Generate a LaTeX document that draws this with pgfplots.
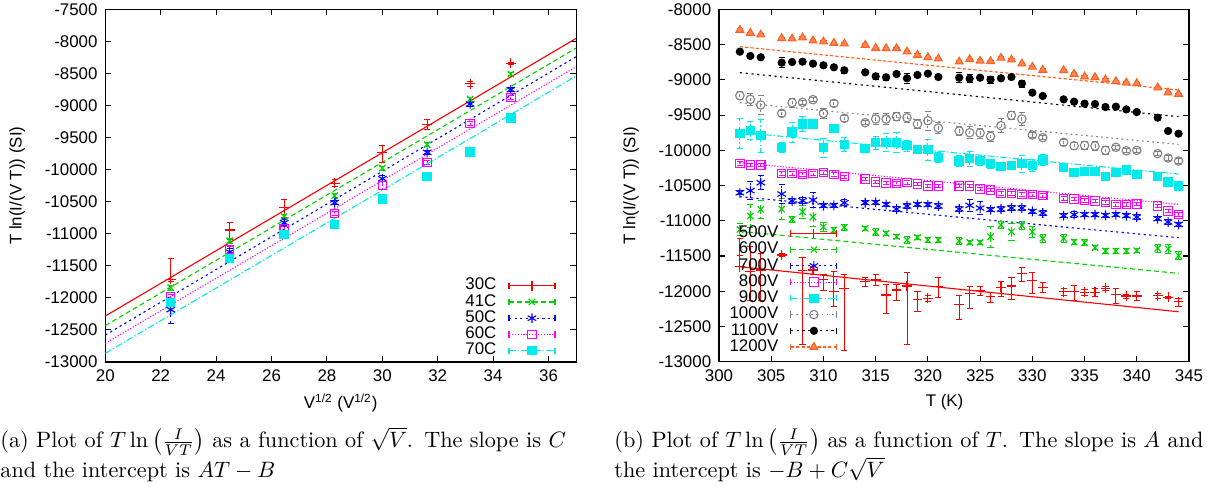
\documentclass[border=0pt]{standalone}
\usepackage{fontspec}
\newfontfamily\plotfont{Liberation Sans}
\usepackage{pgfplots}
\pgfplotsset{compat=1.18}

\definecolor{gpred}{RGB}{255,0,0}
\definecolor{gpgreen}{RGB}{0,210,0}
\definecolor{gpblue}{RGB}{0,0,255}
\definecolor{gpmag}{RGB}{255,0,255}
\definecolor{gpcyan}{RGB}{0,235,235}
\definecolor{gpgray}{RGB}{130,130,130}
\definecolor{gporange}{RGB}{255,96,32}

\newcommand\pf{\plotfont\fontsize{7.6}{8.4}\selectfont}

\pgfplotsset{
  gpaxis/.style={
    scale only axis, anchor=south west,
    axis line style={line width=0.6pt},
    tick align=inside, tick pos=both, major tick length=2.7pt,
    tick style={line width=0.5pt, black},
    scaled ticks=false,
    tick label style={font=\pf},
    label style={font=\pf},
    /pgf/number format/assume math mode=true,
    /pgf/number format/1000 sep={},
    xlabel style={at={(axis description cs:0.5,-0.116)}, anchor=center},
    ylabel style={at={(axis description cs:-0.187,0.5)}, anchor=center},
    legend cell align=right, legend plot pos=right,
    legend style={draw=none, fill=none, font=\pf, inner sep=0pt,
      nodes={inner sep=0pt}, row sep=0.5pt, column sep=5.4pt},
  },
  s1/.style={color=gpred, mark=+, mark size=2.2pt, solid},
  s2/.style={color=gpgreen, mark=x, mark size=2pt, dash pattern=on 2.2pt off 1.4pt},
  s3/.style={color=gpblue, mark=asterisk, mark size=2.2pt, dash pattern=on 1pt off 1.5pt},
  s4/.style={color=gpmag, mark=square, mark size=1.9pt, dash pattern=on 0.5pt off 0.8pt},
  s5/.style={color=gpcyan, mark=square*, mark size=1.9pt, dash pattern=on 3pt off 1pt on 0.6pt off 1pt},
  s6/.style={color=gpgray, mark=o, mark size=1.9pt, dash pattern=on 0.8pt off 1.5pt},
  s7/.style={color=black, mark=*, mark size=1.6pt, dash pattern=on 1pt off 1.6pt},
  s8/.style={color=gporange, mark=triangle*, mark size=2pt, fill=gporange!75, dash pattern=on 1.4pt off 1pt},
  gpdata/.style={only marks, line width=0.5pt, mark options={solid},
    error bars/.cd, y dir=both, y explicit,
    error mark options={rotate=90, mark size=1.4pt, solid}},
  gpfit/.style={no marks, line width=0.5pt, forget plot},
  gpleg/.style={legend image code/.code={
    \draw[##1,mark=none] (0pt,0pt) -- (20.7pt,0pt);
    \draw[##1,mark=none,solid] (0pt,-1.4pt) -- (0pt,1.4pt) (20.7pt,-1.4pt) -- (20.7pt,1.4pt);
    \draw[##1] plot coordinates {(10.35pt,0pt)};
  }},
}

\begin{document}
\begin{tikzpicture}
\useasboundingbox (0,0) rectangle (545.4pt,219.15pt);

% ---------------- (a) ----------------
\begin{axis}[gpaxis, gpleg, at={(47.39pt,56.25pt)}, width=211.9pt, height=158.7pt,
  xmin=20, xmax=37, ymin=-13000, ymax=-7500,
  xtick={20,22,...,36}, ytick={-13000,-12500,...,-7500},
  xlabel={V\textsuperscript{1/2} (V\textsuperscript{1/2})},
  ylabel={T ln(I/(V T)) (SI)},
  legend style={at={(0.957,0.239)}, anchor=north east},
]
\addplot[s1, gpfit] coordinates {(20,-12283) (37,-7953)};
\addplot[s2, gpfit] coordinates {(20,-12433) (37,-8104)};
\addplot[s3, gpfit] coordinates {(20,-12579) (37,-8239)};
\addplot[s4, gpfit] coordinates {(20,-12709) (37,-8395)};
\addplot[s5, gpfit] coordinates {(20,-12865) (37,-8540)};

\addplot[s1, gpdata] coordinates {
  (22.36,-11710) += (0,321) -= (0,37)
  (24.49,-10942) += (0,114) -= (0,145)
  (26.46,-10590) += (0,132) -= (0,154)
  (28.28,-10213) +- (0,55)
  (30.00,-9731) += (0,104) -= (0,161)
  (31.62,-9294) += (0,83) -= (0,78)
  (33.17,-8660) +- (0,36)
  (34.64,-8343) +- (0,15)
};
\addplot[s2, gpdata] coordinates {
  (22.36,-11841) +- (0,40) (24.49,-11108) +- (0,40) (26.46,-10734) +- (0,35)
  (28.28,-10406) +- (0,30) (30.00,-9975) +- (0,30) (31.62,-9611) +- (0,30)
  (33.17,-8899) +- (0,30) (34.64,-8509) +- (0,25)
};
\addplot[s3, gpdata] coordinates {
  (22.36,-12184) += (0,60) -= (0,210) (24.49,-11285) +- (0,60) (26.46,-10827) +- (0,50)
  (28.28,-10515) +- (0,30) (30.00,-10141) +- (0,50) (31.62,-9731) +- (0,30)
  (33.17,-8977) +- (0,30) (34.64,-8753) +- (0,30)
};
\addplot[s4, gpdata] coordinates {
  (22.36,-11981) +- (0,40) (24.49,-11243) +- (0,50) (26.46,-10926) +- (0,40)
  (28.28,-10682) +- (0,30) (30.00,-10245) +- (0,60) (31.62,-9887) +- (0,30)
  (33.17,-9284) +- (0,30) (34.64,-8878) +- (0,30)
};
\addplot[s5, gpdata] coordinates {
  (22.36,-12075) +- (0,30) (24.49,-11389) +- (0,30) (26.46,-11014) +- (0,30)
  (28.28,-10858) +- (0,20) (30.00,-10458) +- (0,20) (31.62,-10110) +- (0,20)
  (33.17,-9725) +- (0,20) (34.64,-9195) +- (0,20)
};
\legend{30C,41C,50C,60C,70C}
\end{axis}

% ---------------- (b) ----------------
\begin{axis}[gpaxis, gpleg, at={(323.55pt,56.39pt)}, width=211.5pt, height=158.5pt,
  xmin=300, xmax=345, ymin=-13000, ymax=-8000,
  xtick={300,305,...,345}, ytick={-13000,-12500,...,-8000},
  xlabel={T (K)},
  ylabel={T ln(I/(V T)) (SI)},
  xlabel style={at={(axis description cs:0.48,-0.116)}},
  legend style={at={(0.253,0.387)}, anchor=north east},
]
\addplot[s1, gpfit] coordinates {(302,-11652) (344,-12291)};
\addplot[s2, gpfit] coordinates {(302,-11150) (344,-11746)};
\addplot[s3, gpfit] coordinates {(302,-10658) (344,-11240)};
\addplot[s4, gpfit] coordinates {(302,-10175) (344,-10767)};
\addplot[s5, gpfit] coordinates {(302,-9744) (344,-10336)};
\addplot[s6, gpfit] coordinates {(302,-9323) (344,-9915)};
\addplot[s7, gpfit] coordinates {(302,-8897) (344,-9522)};
\addplot[s8, gpfit] coordinates {(302,-8528) (344,-9143)};

% 500V
\addplot[s1, gpdata] coordinates {
  (302,-11652) += (0,403) -= (0,-165)
  (303,-11723) += (0,355) -= (0,402)
  (304,-11699) += (0,237) -= (0,426)
  (306,-11486) +- (0,20)
  (308,-11708) += (0,189) -= (0,1042)
  (309,-11699) +- (0,57)
  (310,-11827) += (0,71) -= (0,156)
  (311,-12007) += (0,284) -= (0,203)
  (312,-11959) += (0,203) -= (0,876)
  (314,-11865) += (0,57) -= (0,71)
  (315,-11841) +- (0,80)
  (316,-12054) += (0,156) -= (0,260)
  (317,-11983) += (0,85) -= (0,151)
  (318,-11926) += (0,189) -= (0,824)
  (319,-12111) += (0,114) -= (0,170)
  (320,-12101) += (0,38) -= (0,47)
  (321,-11936) += (0,128) -= (0,151)
  (323,-12187) += (0,123) -= (0,208)
  (324,-12030) += (0,95) -= (0,213)
  (325,-11992) += (0,66) -= (0,71)
  (326,-12078) += (0,57) -= (0,85)
  (327,-11945) += (0,90) -= (0,132)
  (328,-11926) += (0,118) -= (0,189)
  (329,-11746) += (0,80) -= (0,118)
  (330,-11850) += (0,114) -= (0,180)
  (331,-11945) += (0,66) -= (0,76)
  (333,-12007) +- (0,52)
  (334,-12007) += (0,95) -= (0,118)
  (335,-12016) +- (0,47)
  (336,-12016) +- (0,52)
  (337,-11959) += (0,24) -= (0,28)
  (338,-12045) += (0,85) -= (0,128)
  (339,-12068) += (0,28) -= (0,38)
  (340,-12068) += (0,62) -= (0,66)
  (342,-12064) +- (0,33)
  (343,-12087) +- (0,19)
  (344,-12149) += (0,47) -= (0,62)
};
% 600V
\addplot[s2, gpdata] coordinates {
  (302,-11122) +- (0,80) (303,-10932) +- (0,165) (304,-10838) +- (0,130)
  (306,-10833) +- (0,150) (307,-10980) +- (0,40) (308,-10871) +- (0,95)
  (309,-10946) +- (0,130) (310,-11088) +- (0,70) (311,-11131) +- (0,30)
  (312,-11093) +- (0,40) (314,-11107) +- (0,30) (315,-11164) +- (0,50)
  (316,-11178) +- (0,30) (317,-11226) +- (0,30) (318,-11273) +- (0,50)
  (319,-11235) +- (0,30) (320,-11273) +- (0,30) (321,-11273) +- (0,30)
  (323,-11287) +- (0,50) (324,-11306) +- (0,30) (325,-11306) +- (0,30)
  (326,-11226) +- (0,150) (327,-11060) +- (0,50) (328,-11155) +- (0,120)
  (329,-11065) +- (0,60) (330,-11155) +- (0,80) (331,-11249) +- (0,60)
  (333,-11249) +- (0,60) (334,-11301) +- (0,30) (335,-11311) +- (0,40)
  (336,-11382) +- (0,30) (337,-11429) +- (0,30) (338,-11429) +- (0,30)
  (339,-11429) +- (0,30) (340,-11424) +- (0,30) (342,-11391) +- (0,60)
  (343,-11401) +- (0,60) (344,-11495) +- (0,60)
};
% 700V
\addplot[s3, gpdata] coordinates {
  (302,-10601) +- (0,30) (303,-10572) +- (0,130) (304,-10459) +- (0,100)
  (306,-10620) +- (0,140) (307,-10719) +- (0,30) (308,-10714) +- (0,40)
  (309,-10705) +- (0,105) (310,-10785) +- (0,30) (311,-10781) +- (0,30)
  (312,-10743) +- (0,40) (314,-10743) +- (0,30) (315,-10738) +- (0,30)
  (316,-10767) +- (0,30) (317,-10833) +- (0,40) (318,-10790) +- (0,30)
  (319,-10767) +- (0,30) (320,-10771) +- (0,30) (321,-10790) +- (0,30)
  (323,-10833) +- (0,40) (324,-10781) +- (0,80) (325,-10819) +- (0,90)
  (326,-10842) +- (0,30) (327,-10833) +- (0,30) (328,-10819) +- (0,30)
  (329,-10819) +- (0,30) (330,-10866) +- (0,30) (331,-10890) +- (0,30)
  (333,-10927) +- (0,30) (334,-10913) +- (0,40) (335,-10913) +- (0,30)
  (336,-10913) +- (0,30) (337,-10923) +- (0,30) (338,-10913) +- (0,30)
  (339,-10927) +- (0,30) (340,-10946) +- (0,30) (342,-10970) +- (0,30)
  (343,-11017) +- (0,30) (344,-11051) +- (0,30)
};
% 800V
\addplot[s4, gpdata] coordinates {
  (302,-10184) +- (0,25) (303,-10208) +- (0,25) (304,-10208) +- (0,25)
  (306,-10326) +- (0,25) (307,-10331) +- (0,25) (308,-10341) +- (0,25)
  (309,-10331) +- (0,25) (310,-10317) +- (0,25) (311,-10341) +- (0,25)
  (312,-10374) +- (0,25) (314,-10407) +- (0,25) (315,-10450) +- (0,25)
  (316,-10464) +- (0,25) (317,-10468) +- (0,25) (318,-10459) +- (0,25)
  (319,-10478) +- (0,25) (320,-10506) +- (0,25) (321,-10506) +- (0,25)
  (323,-10506) +- (0,25) (324,-10506) +- (0,25) (325,-10549) +- (0,25)
  (326,-10563) +- (0,25) (327,-10610) +- (0,25) (328,-10610) +- (0,25)
  (329,-10625) +- (0,25) (330,-10629) +- (0,25) (331,-10643) +- (0,25)
  (333,-10686) +- (0,25) (334,-10691) +- (0,25) (335,-10710) +- (0,25)
  (336,-10719) +- (0,25) (337,-10738) +- (0,25) (338,-10771) +- (0,25)
  (339,-10767) +- (0,25) (340,-10762) +- (0,25) (342,-10790) +- (0,25)
  (343,-10861) +- (0,25) (344,-10909) +- (0,25)
};
% 900V
\addplot[s5, gpdata] coordinates {
  (302,-9758) +- (0,208) (303,-9721) +- (0,130) (304,-9792) +- (0,232)
  (306,-9957) +- (0,66) (307,-9739) +- (0,142) (308,-9626) +- (0,102)
  (309,-9626) +- (0,30) (310,-9962) +- (0,137) (311,-9692) +- (0,30)
  (312,-9915) +- (0,104) (314,-9976) +- (0,30) (315,-9891) +- (0,95)
  (316,-9891) +- (0,126) (317,-9891) +- (0,142) (318,-9934) +- (0,80)
  (319,-9990) +- (0,57) (320,-9990) +- (0,147) (321,-10104) +- (0,71)
  (323,-10151) +- (0,83) (324,-10118) +- (0,104) (325,-10147) +- (0,66)
  (326,-10189) +- (0,64) (327,-10227) +- (0,30) (328,-10213) +- (0,30)
  (329,-10189) +- (0,118) (330,-10218) +- (0,83) (331,-10137) +- (0,76)
  (333,-10246) +- (0,40) (334,-10317) +- (0,30) (335,-10298) +- (0,40)
  (336,-10303) +- (0,30) (337,-10374) +- (0,30) (338,-10317) +- (0,40)
  (339,-10279) +- (0,30) (340,-10345) +- (0,30) (342,-10374) +- (0,30)
  (343,-10450) +- (0,30) (344,-10506) +- (0,30)
};
% 1000V
\addplot[s6, gpdata] coordinates {
  (302,-9224) +- (0,60) (303,-9276) +- (0,80) (304,-9356) +- (0,135)
  (306,-9474) +- (0,40) (307,-9323) +- (0,64) (308,-9318) +- (0,30)
  (309,-9280) +- (0,30) (310,-9474) +- (0,70) (311,-9332) +- (0,40)
  (312,-9545) +- (0,47) (314,-9607) +- (0,30) (315,-9555) +- (0,78)
  (316,-9555) +- (0,78) (317,-9522) +- (0,60) (318,-9536) +- (0,70)
  (319,-9626) +- (0,60) (320,-9579) +- (0,137) (321,-9683) +- (0,83)
  (323,-9725) +- (0,70) (324,-9749) +- (0,83) (325,-9754) +- (0,70)
  (326,-9801) +- (0,70) (327,-9650) +- (0,100) (328,-9503) +- (0,55)
  (329,-9555) +- (0,95) (330,-9782) +- (0,30) (331,-9820) +- (0,30)
  (333,-9886) +- (0,40) (334,-9934) +- (0,52) (335,-9929) +- (0,60)
  (336,-9938) +- (0,64) (337,-10000) +- (0,60) (338,-9957) +- (0,30)
  (339,-10005) +- (0,30) (340,-10000) +- (0,30) (342,-10047) +- (0,30)
  (343,-10109) +- (0,30) (344,-10151) +- (0,30)
};
% 1100V
\addplot[s7, gpdata] coordinates {
  (302,-8599) +- (0,25) (303,-8660) +- (0,25) (304,-8679) +- (0,25)
  (306,-8755) +- (0,70) (307,-8746) +- (0,25) (308,-8741) +- (0,25)
  (309,-8769) +- (0,25) (310,-8793) +- (0,25) (311,-8821) +- (0,25)
  (312,-8864) +- (0,47) (314,-8892) +- (0,25) (315,-8949) +- (0,40)
  (316,-8963) +- (0,40) (317,-8916) +- (0,25) (318,-8977) +- (0,70)
  (319,-8930) +- (0,25) (320,-8911) +- (0,25) (321,-8959) +- (0,25)
  (323,-8968) +- (0,70) (324,-8982) +- (0,60) (325,-8968) +- (0,25)
  (326,-8996) +- (0,50) (327,-8977) +- (0,25) (328,-8959) +- (0,25)
  (329,-9053) +- (0,52) (330,-9181) +- (0,25) (331,-9228) +- (0,25)
  (333,-9276) +- (0,25) (334,-9309) +- (0,25) (335,-9337) +- (0,25)
  (336,-9342) +- (0,25) (337,-9385) +- (0,25) (338,-9380) +- (0,25)
  (339,-9418) +- (0,25) (340,-9456) +- (0,25) (342,-9536) +- (0,25)
  (343,-9725) +- (0,30) (344,-9763) +- (0,25)
};
% 1200V
\addplot[s8, gpdata] coordinates {
  (302,-8291) +- (0,15) (303,-8334) +- (0,15) (304,-8358) +- (0,15)
  (306,-8409) +- (0,15) (307,-8415) +- (0,15) (308,-8400) +- (0,15)
  (309,-8443) +- (0,15) (310,-8457) +- (0,15) (311,-8476) +- (0,15)
  (312,-8486) +- (0,15) (314,-8504) +- (0,15) (315,-8547) +- (0,15)
  (316,-8551) +- (0,15) (317,-8551) +- (0,15) (318,-8599) +- (0,15)
  (319,-8646) +- (0,15) (320,-8679) +- (0,15) (321,-8699) +- (0,15)
  (323,-8741) +- (0,15) (324,-8707) +- (0,15) (325,-8731) +- (0,15)
  (326,-8735) +- (0,15) (327,-8688) +- (0,15) (328,-8713) +- (0,15)
  (329,-8770) +- (0,15) (330,-8816) +- (0,15) (331,-8859) +- (0,15)
  (333,-8863) +- (0,15) (334,-8916) +- (0,15) (335,-8954) +- (0,15)
  (336,-8962) +- (0,15) (337,-8997) +- (0,15) (338,-9019) +- (0,15)
  (339,-9039) +- (0,15) (340,-9048) +- (0,15) (342,-9110) +- (0,15)
  (343,-9181) +- (0,15) (344,-9200) +- (0,15)
};
\legend{500V,600V,700V,800V,900V,1000V,1100V,1200V}
\end{axis}

% captions
\node[anchor=base west, inner sep=0pt, text width=272pt, font=\fontsize{10}{13.5}\selectfont]
  at (0pt,17.6pt)
  {(a) Plot of $T\ln\left(\frac{I}{VT}\right)$ as a function of $\sqrt{V}$. The slope is $C$ and the intercept is $AT-B$};
\node[anchor=base west, inner sep=0pt, text width=272pt, font=\fontsize{10}{13.5}\selectfont]
  at (276.3pt,17.6pt)
  {(b) Plot of $T\ln\left(\frac{I}{VT}\right)$ as a function of $T$. The slope is $A$ and the intercept is $-B+C\sqrt{V}$};
\end{tikzpicture}
\end{document}
